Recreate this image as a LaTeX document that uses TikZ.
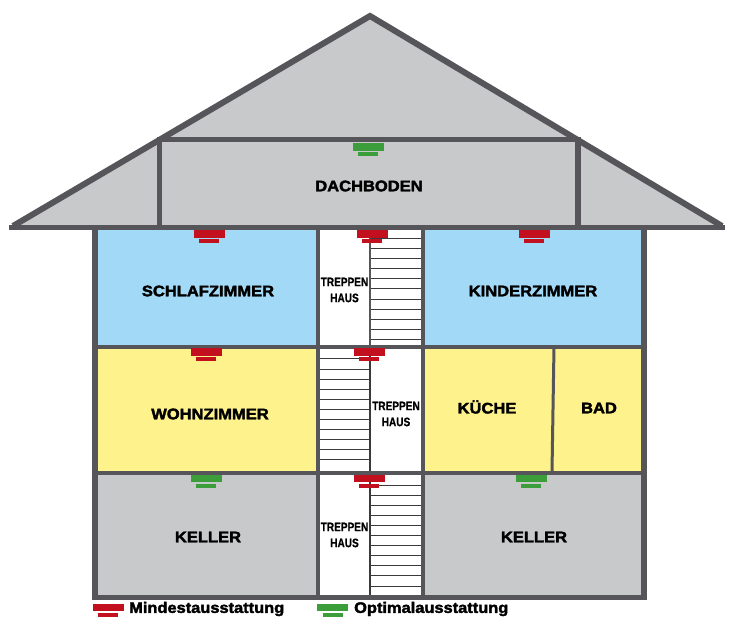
\documentclass[tikz,border=0pt]{standalone}
\usepackage{fontspec}
\setmainfont{Liberation Sans}
\newfontfamily\heavyfont[FakeBold=2.4,FakeStretch=1.08]{Liberation Sans Bold}
\newfontfamily\condfont[FakeBold=0.6,FakeStretch=0.82]{Liberation Sans Bold}
\definecolor{wallc}{HTML}{55555A}
\definecolor{greyc}{HTML}{C8C9CB}
\definecolor{bluec}{HTML}{A2D9F7}
\definecolor{yellowc}{HTML}{FDF28B}
\definecolor{redc}{HTML}{C2101F}
\definecolor{greenc}{HTML}{3C9E3A}
\definecolor{treadc}{HTML}{3A3A3C}
\tikzset{
 wall/.style={draw=wallc,line width=5.5pt,line join=miter},
 thinwall/.style={draw=wallc,line width=4pt},
 tread/.style={draw=treadc,line width=0.9pt},
 roomlabel/.style={font=\heavyfont\fontsize{15.3}{16}\selectfont,text=black,inner sep=0pt},
 stairlabel/.style={font=\condfont\fontsize{12.3}{16}\selectfont,text=black,inner sep=0pt,align=center},
 legendlabel/.style={font=\heavyfont\fontsize{15.2}{16}\selectfont,text=black,inner sep=0pt,anchor=west},
}
\newcommand{\alarm}[3]{%
 \fill[#3] (#1-15.5,#2-4) rectangle (#1+15.5,#2+3.5);
 \fill[#3] (#1-10,#2+5) rectangle (#1+10,#2+9);
}
\begin{document}
\begin{tikzpicture}[x=1pt,y=-1pt]
\useasboundingbox (0,0) rectangle (740,627);
% roof
\fill[greyc] (370,13) -- (725,228) -- (10,228) -- cycle;
% rooms
\fill[bluec] (95,228) rectangle (319,346);
\fill[bluec] (423,228) rectangle (644,346);
\fill[yellowc] (95,346) rectangle (319,472);
\fill[yellowc] (423,346) rectangle (644,472);
\fill[greyc] (95,472) rectangle (319,597);
\fill[greyc] (423,472) rectangle (644,597);
\fill[white] (319,228) rectangle (423,597);
% treads
\foreach \y in {238,248,258,268,278,288,299,309,319,329,339} \draw[tread] (370,\y) -- (423,\y);
\foreach \y in {358,369,379,389,399,409,419,429,439,449,459} \draw[tread] (319,\y) -- (370,\y);
\foreach \y in {485,495,505.2,515.3,525.4,535.5,545.6,555.7,565.8,575.9,586} \draw[tread] (370,\y) -- (423,\y);
\draw[draw=wallc,line width=1.6pt] (370,228) -- (370,346);
\draw[draw=treadc,line width=1.1pt] (370,346) -- (370,472);
\draw[draw=treadc,line width=1.1pt] (370,472) -- (370,597);
% walls
\draw[wall] (9,227.5) -- (725,227.5);
\draw[wall,line width=6pt] (13,226) -- (370,16) -- (722,226);
\draw[wall] (159.5,139) -- (159.5,226);
\draw[wall] (578,139) -- (578,226);
\draw[wall] (157,139.5) -- (581,139.5);
\draw[wall] (95,228) -- (95,597.5) -- (644,597.5) -- (644,228);
\draw[thinwall] (95,346.5) -- (644,346.5);
\draw[thinwall] (95,472.5) -- (644,472.5);
\draw[thinwall] (318,228) -- (318,597);
\draw[thinwall] (423,228) -- (423,597);
\draw[draw=wallc,line width=3pt] (554,347) -- (552,472);
% alarms
\alarm{368}{147}{greenc}
\alarm{209}{234}{redc}
\alarm{372}{234}{redc}
\alarm{534}{234}{redc}
\alarm{206}{352}{redc}
\alarm{369}{352}{redc}
\alarm{206}{478.5}{greenc}
\alarm{369}{478.5}{redc}
\alarm{531}{478.5}{greenc}
\alarm{108}{607.5}{redc}
\alarm{332.5}{607.5}{greenc}
% labels
\node[roomlabel] (dach) at (369,186) {DACHBODEN};
\node[roomlabel] (schlaf) at (208,291) {SCHLAFZIMMER};
\node[roomlabel] (kinder) at (533,291) {KINDERZIMMER};
\node[roomlabel] (wohn) at (210,414) {WOHNZIMMER};
\node[roomlabel] (kueche) at (487,407) {KÜCHE};
\node[roomlabel] (bad) at (599,408) {BAD};
\node[roomlabel] (kellerl) at (208,537) {KELLER};
\node[roomlabel] (kellerr) at (534,537) {KELLER};
\node[stairlabel] (tr1) at (344.5,290) {TREPPEN\\HAUS};
\node[stairlabel] (tr2) at (396,414) {TREPPEN\\HAUS};
\node[stairlabel] (tr3) at (344.5,535) {TREPPEN\\HAUS};
\node[legendlabel] (mind) at (129,609) {Mindestausstattung};
\node[legendlabel] (opt) at (354,609) {Optimalausstattung};
\end{tikzpicture}
\end{document}
